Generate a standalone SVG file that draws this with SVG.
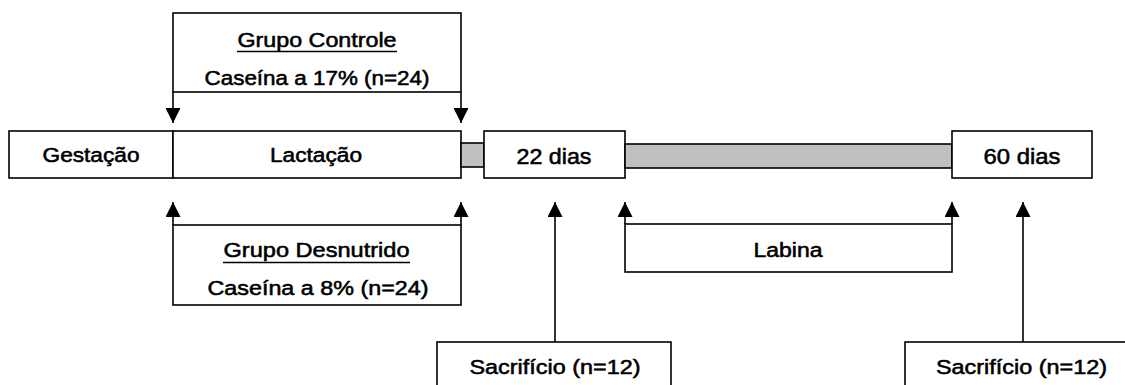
<svg xmlns="http://www.w3.org/2000/svg" width="1125" height="385" viewBox="0 0 1125 385">
<defs>
<style>
.box{fill:#ffffff;stroke:#000000;stroke-width:1.6}
.bar{fill:#c0c0c0;stroke:#000000;stroke-width:1.6}
.t{font-family:"Liberation Sans",Arial,sans-serif;font-size:20.5px;fill:#000000;stroke:#000000;stroke-width:0.55;text-anchor:middle}
.big{font-size:22px}
.ul{stroke:#000000;stroke-width:1.6}
.conn{stroke:#000000;stroke-width:1.6;fill:none}
</style>
<marker id="ah" viewBox="0 0 15 15" refX="15" refY="7.5" markerWidth="15" markerHeight="15" markerUnits="userSpaceOnUse" orient="auto">
<path d="M0,0 L15,7.5 L0,15 Z" fill="#000000"/>
</marker>
</defs>
<rect width="1125" height="385" fill="#ffffff"/>

<g id="connectors">
<line class="conn" x1="173" y1="92" x2="173" y2="123" marker-end="url(#ah)"/>
<line class="conn" x1="461" y1="92" x2="461" y2="123" marker-end="url(#ah)"/>
<line class="conn" x1="173" y1="225" x2="173" y2="202" marker-end="url(#ah)"/>
<line class="conn" x1="461" y1="225" x2="461" y2="202" marker-end="url(#ah)"/>
<line class="conn" x1="555" y1="342" x2="555" y2="202" marker-end="url(#ah)"/>
<line class="conn" x1="625" y1="224" x2="625" y2="202" marker-end="url(#ah)"/>
<line class="conn" x1="952" y1="224" x2="952" y2="202" marker-end="url(#ah)"/>
<line class="conn" x1="1023" y1="342" x2="1023" y2="202" marker-end="url(#ah)"/>
</g>

<g id="grupo-controle">
<rect class="box" x="173" y="13" width="288" height="79"/>
<text class="t" x="317" y="47" textLength="159" lengthAdjust="spacingAndGlyphs">Grupo Controle</text>
<line class="ul" x1="237" y1="51.5" x2="397" y2="51.5"/>
<text class="t" x="317" y="85" textLength="225" lengthAdjust="spacingAndGlyphs">Caseína a 17% (n=24)</text>
</g>

<g id="gestacao">
<rect class="box" x="9" y="131" width="164" height="47"/>
<text class="t" x="91" y="162" textLength="97" lengthAdjust="spacingAndGlyphs">Gestação</text>
</g>

<g id="lactacao">
<rect class="box" x="173" y="131" width="288" height="47"/>
<text class="t" x="316" y="162" textLength="92" lengthAdjust="spacingAndGlyphs">Lactação</text>
</g>

<g id="barra-curta">
<rect class="bar" x="461" y="143" width="23" height="24"/>
</g>

<g id="dias22">
<rect class="box" x="484" y="131" width="141" height="47"/>
<text class="t big" x="554" y="164" textLength="75" lengthAdjust="spacingAndGlyphs">22 dias</text>
</g>

<g id="barra-longa">
<rect class="bar" x="625" y="144" width="327" height="24"/>
</g>

<g id="dias60">
<rect class="box" x="952" y="131" width="140" height="47"/>
<text class="t big" x="1022" y="164" textLength="77" lengthAdjust="spacingAndGlyphs">60 dias</text>
</g>

<g id="grupo-desnutrido">
<rect class="box" x="173" y="225" width="288" height="80"/>
<text class="t" x="316.5" y="256.5" textLength="186" lengthAdjust="spacingAndGlyphs">Grupo Desnutrido</text>
<line class="ul" x1="223" y1="262.5" x2="410" y2="262.5"/>
<text class="t" x="318" y="295" textLength="221" lengthAdjust="spacingAndGlyphs">Caseína a 8% (n=24)</text>
</g>

<g id="labina">
<rect class="box" x="625" y="224" width="327" height="48"/>
<text class="t" x="788" y="256.5" textLength="69" lengthAdjust="spacingAndGlyphs">Labina</text>
</g>

<g id="sacrificio-1">
<rect class="box" x="437" y="342" width="234" height="60"/>
<text class="t" x="555" y="374" textLength="171" lengthAdjust="spacingAndGlyphs">Sacrifício (n=12)</text>
</g>

<g id="sacrificio-2">
<rect class="box" x="905" y="342" width="240" height="60"/>
<text class="t" x="1021.5" y="374" textLength="171" lengthAdjust="spacingAndGlyphs">Sacrifício (n=12)</text>
</g>
</svg>
